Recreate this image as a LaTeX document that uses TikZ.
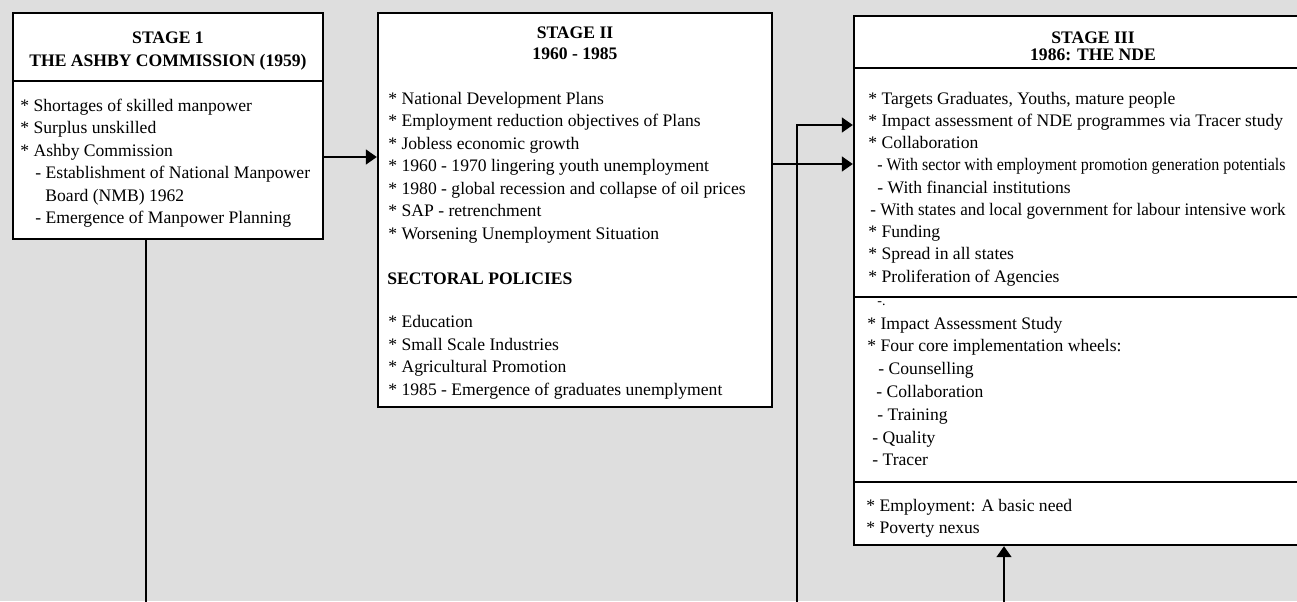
\documentclass[tikz,border=0pt]{standalone}
\usepackage{fontspec}
\usepackage{graphicx}
\setmainfont{Liberation Serif}
\usetikzlibrary{arrows.meta,fit}

\begin{document}
\begin{tikzpicture}[x=0.5pt,y=-0.5pt,
        stagebox/.style={draw=black, line width=1.2pt, fill=white, inner sep=0pt},
        head/.style={font=\fontsize{8.8}{11}\selectfont\bfseries, inner sep=0pt, anchor=base},
        item/.style={font=\fontsize{8.8}{11}\selectfont, inner sep=0pt, anchor=base west},
        link/.style={line width=0.8pt, -{Triangle[length=5.5pt,width=7.5pt]}},
        ]

        % Page
        \useasboundingbox (0,0) rectangle (1297,601);
        \clip (0,0) rectangle (1297,601);
        \fill[black!13] (0,0) rectangle (1297,601);

        % Frames
        \node[stagebox, fit={(13,13) (323,81)}] (s1head) {};
        \node[stagebox, fit={(13,81) (323,239)}] (s1body) {};
        \node[stagebox, fit={(378,13) (772,407)}] (s2) {};
        \node[stagebox, fit={(854,16) (1332,68)}] (s3head) {};
        \node[stagebox, fit={(854,68) (1332,297)}] (s3a) {};
        \node[stagebox, fit={(854,297) (1332,482)}] (s3b) {};
        \node[stagebox, fit={(854,482) (1332,545)}] (s3c) {};

        % Stage 1
        \node[head] (t1a) at (168,43) {STAGE 1};
        \node[head] (t1b) at (168,66) {THE ASHBY COMMISSION (1959)};
        \foreach \txt/\x [count=\i] in {{* Shortages of skilled manpower}/20,
            {* Surplus unskilled}/20, {* Ashby Commission}/20,
            {- Establishment of National Manpower}/35, {Board (NMB) 1962}/45,
            {- Emergence of Manpower Planning}/35}
            \node[item] (l1\i) at (\x,{111.5+22.4*(\i-1)}) {\txt};

        % Stage 2
        \node[head] (t2a) at (575,38) {STAGE II};
        \node[head] (t2b) at (575,59) {1960 - 1985};
        \foreach \txt [count=\i] in {{* National Development Plans},
            {* Employment reduction objectives of Plans}, {* Jobless economic growth},
            {* 1960 - 1970 lingering youth unemployment},
            {* 1980 - global recession and collapse of oil prices},
            {* SAP - retrenchment}, {* Worsening Unemployment Situation}}
            \node[item] (l2\i) at (388,{104+22.5*(\i-1)}) {\txt};
        \node[head, anchor=base west] (sect) at (387,284) {SECTORAL POLICIES};
        \foreach \txt [count=\i] in {{* Education}, {* Small Scale Industries},
            {* Agricultural Promotion}, {* 1985 - Emergence of graduates unemplyment}}
            \node[item] (p2\i) at (388,{327.5+22.5*(\i-1)}) {\txt};

        % Stage 3
        \node[head] (t3a) at (1093,43) {STAGE III};
        \node[head] (t3b) at (1093,60) {1986: THE NDE};
        \foreach \txt/\x [count=\i] in {{* Targets Graduates, Youths, mature people}/868,
            {* Impact assessment of NDE programmes via Tracer study}/868,
            {* Collaboration}/868,
            {\scalebox{0.91}[1]{- With sector with employment promotion generation potentials}}/877,
            {- With financial institutions}/877,
            {\scalebox{0.97}[1]{- With states and local government for labour intensive work}}/870,
            {* Funding}/868, {* Spread in all states}/868, {* Proliferation of Agencies}/868}
            \node[item] (a3\i) at (\x,{104+22.25*(\i-1)}) {\txt};
        \node[item, font=\fontsize{7}{8}\selectfont] (mark) at (877,305) {-.};
        \foreach \txt/\x [count=\i] in {{* Impact Assessment Study}/867,
            {* Four core implementation wheels:}/867, {- Counselling}/878,
            {- Collaboration}/876, {- Training}/877, {- Quality}/872, {- Tracer}/872}
            \node[item] (b3\i) at (\x,{329+22.8*(\i-1)}) {\txt};
        \node[item] (c31) at (866,511) {* Employment: A basic need};
        \node[item] (c32) at (866,533) {* Poverty nexus};

        % Connectors
        \coordinate (foot1) at (146,610);
        \coordinate (foot2) at (797,610);
        \coordinate (foot3) at (1004,610);
        \coordinate (bend2) at (797,125);
        \draw[line width=0.8pt] (s1body.south -| foot1) -- (foot1);
        \draw[link] (s1body.east |- 0,157) -- (s2.west |- 0,157);
        \draw[link] (s2.east |- 0,164) -- (s3a.west |- 0,164);
        \draw[link] (foot2) -- (bend2) -- (bend2 -| s3a.west);
        \draw[link] (foot3) -- (foot3 |- s3c.south);

    \end{tikzpicture}
\end{document}
